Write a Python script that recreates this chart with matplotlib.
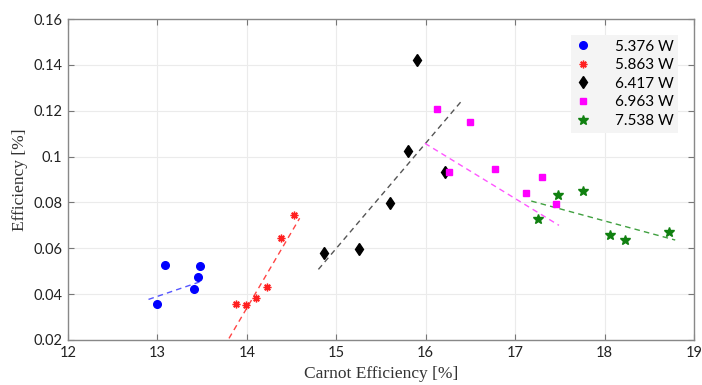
import matplotlib
matplotlib.use("Agg")
import matplotlib.pyplot as plt

# Datove body (Carnot efficiency [%], efficiency [%])
labels = ["5.376 W", "5.863 W", "6.417 W", "6.963 W", "7.538 W"]

x_5376 = [12.99, 13.09, 13.41, 13.45, 13.48]
y_5376 = [0.0357, 0.0527, 0.0421, 0.0476, 0.0523]

x_5863 = [13.88, 13.985, 14.10, 14.23, 14.38, 14.525]
y_5863 = [0.0357, 0.0353, 0.0385, 0.0432, 0.0644, 0.0745]

x_6417 = [14.86, 15.25, 15.60, 15.80, 15.90, 16.21]
y_6417 = [0.0581, 0.0597, 0.0797, 0.1026, 0.1420, 0.0932]

x_6963 = [16.13, 16.26, 16.49, 16.78, 17.12, 17.30, 17.46]
y_6963 = [0.1207, 0.0932, 0.1152, 0.0944, 0.0842, 0.0910, 0.0792]

x_7538 = [17.26, 17.48, 17.76, 18.06, 18.23, 18.72]
y_7538 = [0.0726, 0.0831, 0.0851, 0.0658, 0.0636, 0.0670]

# Koncove body prolozenych primek
fit_x = [[12.90, 13.47], [13.80, 14.59], [14.80, 16.40], [15.99, 17.49], [17.18, 18.79]]
fit_y = [[0.0377, 0.0453], [0.0207, 0.0731], [0.0508, 0.1242], [0.1058, 0.0700], [0.0806, 0.0636]]

xticks = [12, 13, 14, 15, 16, 17, 18, 19]
yticks = [0.02, 0.04, 0.06, 0.08, 0.1, 0.12, 0.14, 0.16]
ytick_labels = ["0.02", "0.04", "0.06", "0.08", "0.1", "0.12", "0.14", "0.16"]

colors = ["#0000ff", "#ff2020", "#000000", "#ff00ff", "#108010"]
line_colors = ["#5555ff", "#ff4444", "#555555", "#ff55ff", "#40a040"]
markers = ["o", (8, 2, 0), "d", "s", "*"]
msizes = [5.5, 5.5, 6, 5, 7]

SANS = ["Lato", "DejaVu Sans"]
SERIF = ["Liberation Serif", "DejaVu Serif"]

fig = plt.figure(figsize=(7.02, 3.85), dpi=100)
ax = fig.add_axes([0.0969, 0.1169, 0.8917, 0.8337])

xs = [x_5376, x_5863, x_6417, x_6963, x_7538]
ys = [y_5376, y_5863, y_6417, y_6963, y_7538]

handles = []
for i in range(5):
    h, = ax.plot(xs[i], ys[i], linestyle="none", marker=markers[i], markersize=msizes[i],
                 color=colors[i], markeredgecolor=colors[i], markeredgewidth=1.0,
                 label=labels[i], zorder=3)
    handles.append(h)
    ax.plot(fit_x[i], fit_y[i], linestyle=(0, (4, 3)), color=line_colors[i],
            linewidth=1.0, zorder=2)

ax.set_xlim(12, 19)
ax.set_ylim(0.02, 0.16)
ax.set_xticks(xticks)
ax.set_yticks(yticks)
ax.set_yticklabels(ytick_labels)
for lab in ax.get_xticklabels() + ax.get_yticklabels():
    lab.set_family(SANS)
    lab.set_fontsize(10.5)
    lab.set_color("#222222")

ax.grid(True, color="#ebebeb", linewidth=0.8)
ax.set_axisbelow(True)
ax.tick_params(direction="in", top=True, right=True, length=4, width=0.8,
               color="#777777", pad=4)
for s in ax.spines.values():
    s.set_color("#888888")
    s.set_linewidth(1.0)

ax.set_xlabel("Carnot Efficiency [%]", family=SERIF, fontsize=12.5, color="#333333", labelpad=5)
ax.set_ylabel("Efficiency [%]", family=SERIF, fontsize=12.5, color="#333333", labelpad=4)

leg = ax.legend(handles=handles, loc="upper right", bbox_to_anchor=(0.975, 0.95),
                prop={"family": SANS, "size": 11}, frameon=True, fancybox=False,
                facecolor="#f4f4f4", edgecolor="none", framealpha=1.0,
                labelspacing=0.3, handletextpad=1.6, handlelength=1.0,
                borderpad=0.3, borderaxespad=0)

fig.savefig("out.png", dpi=100)
